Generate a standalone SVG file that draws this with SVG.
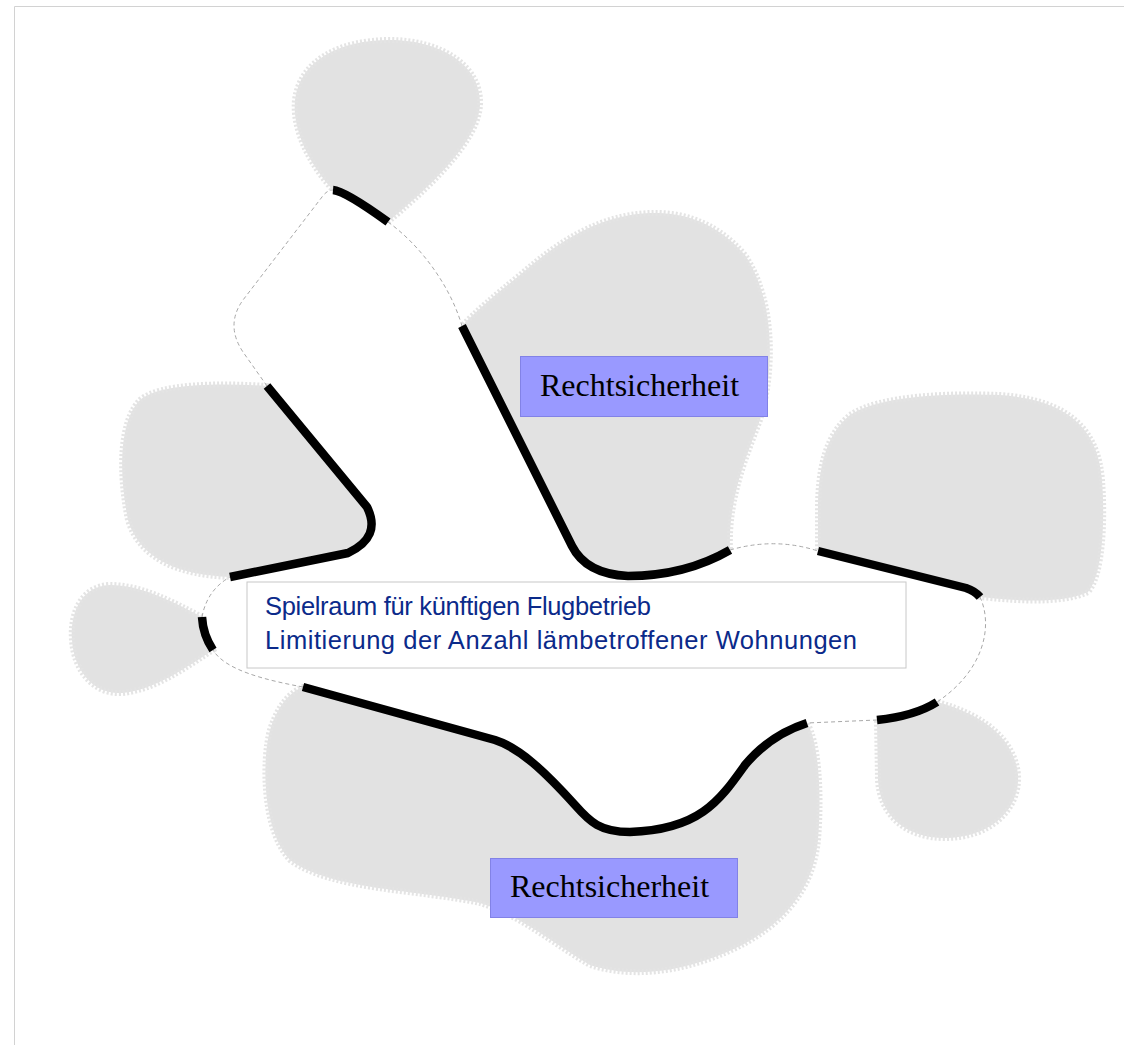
<svg xmlns="http://www.w3.org/2000/svg" width="1124" height="1045" viewBox="0 0 1124 1045">
<style>
.blob{fill:#e2e2e2;stroke:#e4e4e4;stroke-width:6;stroke-dasharray:2 2}
.thick{fill:none;stroke:#000;stroke-width:8.5;stroke-linecap:butt;stroke-linejoin:round}
.thin{fill:none;stroke:#a8a8a8;stroke-width:1;stroke-dasharray:4 3}
.lbl{fill:#9999ff;stroke:#8282e6;stroke-width:1}
.lbltxt{font-family:"Liberation Serif","Times New Roman",serif;font-size:32px;fill:#000}
.main{fill:#fff;stroke:#c8c8c8;stroke-width:1}
.maintxt{font-family:"Liberation Sans",Arial,sans-serif;font-size:25.5px;fill:#0b2a8a}
</style>
<rect x="0" y="0" width="1124" height="1045" fill="#fff"/>
<g id="frame" fill="none" stroke="#d2d2d2" stroke-width="1">
<path d="M14.5,1045 V6.5 H1124"/>
</g>
<g id="blobs">
<path id="blob-top" class="blob" d="M333,190 Q345,191 388,222 C420,195 478,145 480,105 C482,65 440,40 390,40 C340,40 300,60 295,100 C292,130 310,165 333,190 Z"/>
<path id="blob-upper-right" class="blob" d="M462,326 L572,546 Q586,574 628,576 Q685,576 730,550 C728,500 745,460 760,420 C775,370 775,300 745,255 C715,220 680,212 650,213 C600,215 560,240 520,275 C495,295 475,312 462,326 Z"/>
<path id="blob-right" class="blob" d="M818,551 L966,588 Q975,591 980,597 C1010,600 1060,605 1088,592 C1103,575 1105,520 1102,480 C1098,430 1070,400 1000,395 C950,393 880,395 850,415 C825,435 818,470 818,510 Z"/>
<path id="blob-left" class="blob" d="M267,386 L367,507 Q382,537 348,553 L230,577 C180,575 140,560 128,520 C118,470 120,420 140,400 C160,383 220,383 267,386 Z"/>
<path id="blob-far-left" class="blob" d="M202,617 C170,600 140,585 110,585 C80,586 70,615 72,640 C74,672 95,695 122,693 C155,690 185,668 213,650 Q203,635 202,617 Z"/>
<path id="blob-bottom" class="blob" d="M303,687 L495,740 C520,748 545,772 575,805 C590,822 600,832 630,832 C700,830 720,800 745,765 Q770,735 807,723 C818,740 822,790 818,840 C812,900 770,940 700,962 C660,975 620,975 590,965 C555,945 520,915 480,903 C420,890 330,890 290,860 C262,830 262,760 270,730 C278,705 290,692 303,687 Z"/>
<path id="blob-bottom-right" class="blob" d="M877,720 Q915,716 937,702 C985,715 1015,740 1018,775 C1020,810 990,838 945,838 C905,838 880,815 878,780 Z"/>
</g>
<g id="connectors">
<path class="thin" d="M388,222 C420,245 450,285 462,326"/>
<path class="thin" d="M730,550 Q775,537 818,551"/>
<path class="thin" d="M980,597 C993,625 985,670 937,702"/>
<path class="thin" d="M877,720 L807,723"/>
<path class="thin" d="M303,687 C265,680 225,670 213,650"/>
<path class="thin" d="M202,617 Q207,590 230,577"/>
<path class="thin" d="M267,386 L243,352 Q225,325 243,300 L322,197 Q327,190 333,190"/>
<path class="thick" d="M333,190 Q345,191 388,222"/>
<path class="thick" d="M462,326 L572,546 Q586,574 628,576 Q685,576 730,550"/>
<path class="thick" d="M818,551 L966,588 Q975,591 980,597"/>
<path class="thick" d="M937,702 Q915,716 877,720"/>
<path class="thick" d="M807,723 Q770,735 745,765 C720,800 700,830 630,832 C600,832 590,822 575,805 C545,772 520,748 495,740 L303,687"/>
<path class="thick" d="M213,650 Q203,635 202,617"/>
<path class="thick" d="M230,577 L348,553 Q382,537 367,507 L267,386"/>
</g>
<g id="node-main">
<rect class="main" x="247" y="582" width="659" height="86"/>
<text class="maintxt" x="265" y="615" textLength="386" lengthAdjust="spacing">Spielraum für künftigen Flugbetrieb</text>
<text class="maintxt" x="265" y="648.5" textLength="592" lengthAdjust="spacing">Limitierung der Anzahl lämbetroffener Wohnungen</text>
</g>
<g id="node-recht-1">
<rect class="lbl" x="520.5" y="356.5" width="247" height="60"/>
<text class="lbltxt" x="540" y="396">Rechtsicherheit</text>
</g>
<g id="node-recht-2">
<rect class="lbl" x="490.5" y="858.5" width="247" height="59"/>
<text class="lbltxt" x="510" y="897">Rechtsicherheit</text>
</g>
</svg>
